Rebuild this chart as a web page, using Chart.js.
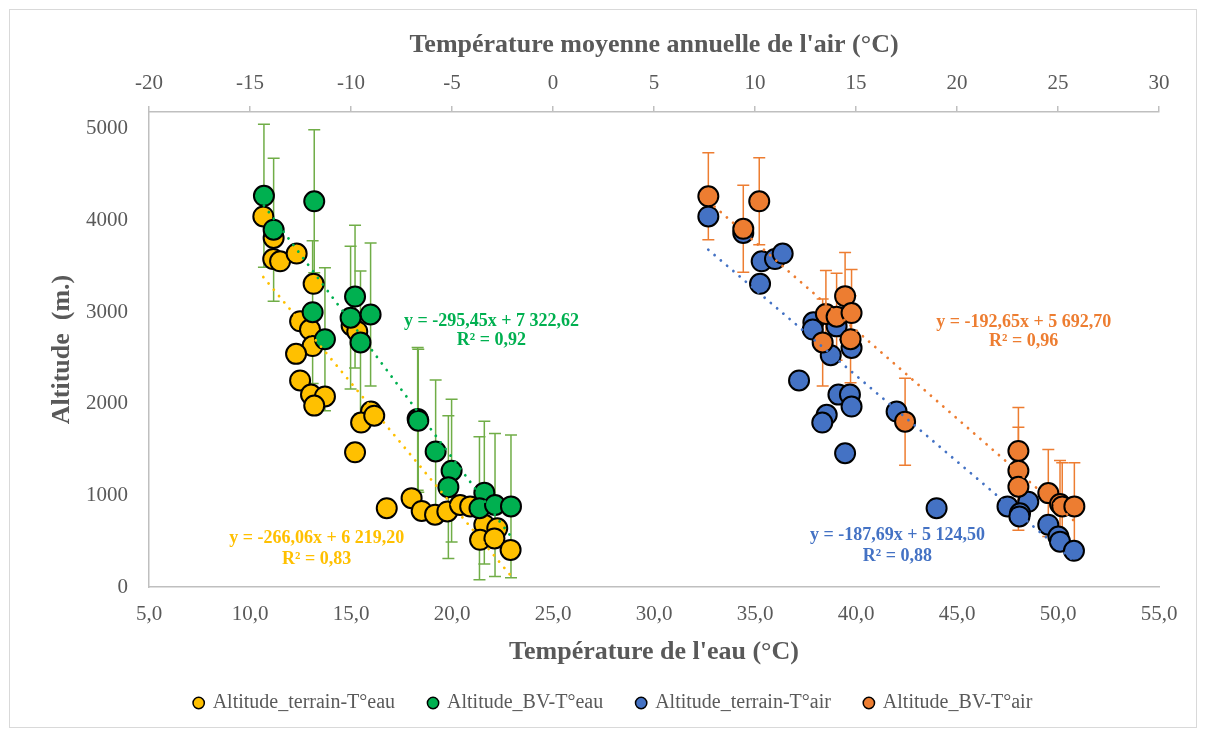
<!DOCTYPE html>
<html lang="fr">
<head>
<meta charset="utf-8">
<title>Altitude et température</title>
<script src="https://cdn.jsdelivr.net/npm/chart.js@4.4.1/dist/chart.umd.min.js"></script>
<style>
  html, body { margin: 0; padding: 0; background: #fff; }
  #wrap { width: 1206px; height: 733px; }
</style>
</head>
<body>
<div id="wrap"><canvas id="chart" width="1206" height="733"></canvas></div>
<script>
// --- Données ---
const seriesLabels = ['Altitude_terrain-T°eau', 'Altitude_BV-T°eau', 'Altitude_terrain-T°air', 'Altitude_BV-T°air'];
const yTicks = [0, 1000, 2000, 3000, 4000, 5000];

// Altitude terrain / température de l'eau (axe du bas)
const eauTerrainX = [10.66, 11.17, 11.15, 11.49, 12.31, 13.15, 12.48, 12.97, 13.10, 12.28, 12.48, 13.02, 13.71, 13.18,
  15.03, 15.31, 15.99, 15.50, 16.15, 15.20, 16.77, 18.00, 18.50, 19.16, 19.77, 20.40, 20.90, 21.60, 22.24, 21.39, 22.10, 22.90];
const eauTerrainY = [4045, 3810, 3580, 3555, 3640, 3310, 2900, 2810, 2630, 2545, 2255, 2100, 2080, 1980,
  2855, 2790, 1915, 1795, 1870, 1470, 860, 970, 830, 790, 825, 895, 880, 680, 640, 515, 530, 405];

// Altitude BV / température de l'eau (axe du bas)
const eauBVX = [10.69, 11.17, 13.18, 13.10, 13.71, 15.20, 14.98, 15.97, 15.47, 18.30, 18.33, 19.19, 19.98, 19.82, 21.60, 21.36, 22.13, 22.92];
const eauBVY = [4270, 3900, 4210, 3000, 2705, 3170, 2940, 2975, 2670, 1835, 1815, 1480, 1270, 1090, 1030, 860, 895, 880];
const eauBVErr = 780;

// Altitude terrain / température de l'air (axe du haut)
const airTerrainX = [7.69, 9.42, 10.33, 10.99, 11.37, 10.25, 12.89, 12.86, 14.04, 13.75, 14.78, 12.18, 14.13, 14.70,
  14.78, 13.55, 13.33, 14.46, 17.01, 18.99, 22.50, 23.53, 23.12, 23.09, 24.52, 25.02, 25.10, 25.79];
const airTerrainY = [4045, 3865, 3555, 3580, 3640, 3310, 2890, 2810, 2845, 2530, 2610, 2255, 2100, 2100,
  1970, 1880, 1795, 1460, 1915, 860, 880, 930, 805, 770, 680, 550, 495, 395];

// Altitude BV / température de l'air (axe du haut)
const airBVX = [7.69, 10.21, 9.42, 14.46, 13.51, 14.04, 14.78, 13.35, 14.73, 17.43, 23.04, 23.04, 23.04, 24.52, 25.10, 25.21, 25.81];
const airBVY = [4265, 4210, 3910, 3175, 2980, 2950, 2990, 2670, 2705, 1805, 1485, 1270, 1095, 1025, 905, 880, 880];
const airBVErr = 475;

// Courbes de tendance (équations affichées)
const trendSlopes = [-266.06, -295.45, -187.69, -192.65];
const trendIntercepts = [6219.20, 7322.62, 5124.50, 5692.70];
const trendR2 = [0.83, 0.92, 0.88, 0.96];

const colors = ['#FFC000', '#00B050', '#4472C4', '#ED7D31'];
const grey = '#595959';
const axisGrey = '#BFBFBF';

Chart.defaults.font.family = "'Liberation Serif', 'Times New Roman', serif";
Chart.defaults.color = grey;

function pts(xs, ys) {
  return xs.map((x, i) => ({ x: x, y: ys[i] }));
}

function trendPoints(xs, k) {
  const x0 = Math.min(...xs), x1 = Math.max(...xs);
  return [{ x: x0, y: trendSlopes[k] * x0 + trendIntercepts[k] },
          { x: x1, y: trendSlopes[k] * x1 + trendIntercepts[k] }];
}

function frNum(v) {
  const s = Math.abs(v).toFixed(2).split('.');
  const ent = s[0].replace(/\B(?=(\d{3})+(?!\d))/g, ' ');
  return (v < 0 ? '-' : '') + ent + ',' + s[1];
}

function scatterSet(k, xs, ys, axis, order, err, errColor) {
  return {
    label: seriesLabels[k],
    data: pts(xs, ys),
    xAxisID: axis,
    backgroundColor: colors[k],
    borderColor: '#000',
    borderWidth: 2,
    pointRadius: 10,
    pointBorderWidth: 2,
    pointHoverRadius: 10,
    order: order,
    errorBar: err ? { value: err, color: errColor } : null
  };
}

function trendSet(k, xs, axis) {
  return {
    label: '',
    isTrend: true,
    data: trendPoints(xs, k),
    xAxisID: axis,
    showLine: true,
    borderColor: colors[k],
    borderWidth: 2.8,
    borderDash: [0.01, 8.2],
    borderCapStyle: 'round',
    pointRadius: 0,
    fill: false,
    order: 1
  };
}

// --- Barres d'erreur verticales ---
const errorBarsPlugin = {
  id: 'errorBars',
  beforeDatasetsDraw(chart) {
    const ctx = chart.ctx;
    chart.data.datasets.forEach((ds, i) => {
      if (!ds.errorBar) return;
      const meta = chart.getDatasetMeta(i);
      const yScale = chart.scales[meta.yAxisID];
      ctx.save();
      ctx.strokeStyle = ds.errorBar.color;
      ctx.lineWidth = 1.5;
      meta.data.forEach((p, j) => {
        const v = ds.data[j].y;
        const top = yScale.getPixelForValue(v + ds.errorBar.value);
        const bot = yScale.getPixelForValue(v - ds.errorBar.value);
        ctx.beginPath();
        ctx.moveTo(p.x, top); ctx.lineTo(p.x, bot);
        ctx.moveTo(p.x - 6, top); ctx.lineTo(p.x + 6, top);
        ctx.moveTo(p.x - 6, bot); ctx.lineTo(p.x + 6, bot);
        ctx.stroke();
      });
      ctx.restore();
    });
  }
};

// --- Équations des tendances (position relative à la zone du graphique) ---
const eqPos = [
  { fx: 0.166, fy: 0.897, fy2: 0.942 },
  { fx: 0.339, fy: 0.440, fy2: 0.480 },
  { fx: 0.741, fy: 0.892, fy2: 0.936 },
  { fx: 0.866, fy: 0.442, fy2: 0.482 }
];
const equationsPlugin = {
  id: 'equations',
  afterDatasetsDraw(chart) {
    const { ctx, chartArea: a } = chart;
    ctx.save();
    ctx.font = "bold 18px 'Liberation Serif', 'Times New Roman', serif";
    ctx.textAlign = 'center';
    ctx.textBaseline = 'middle';
    eqPos.forEach((p, k) => {
      const x = a.left + p.fx * (a.right - a.left);
      const h = a.bottom - a.top;
      ctx.fillStyle = colors[k];
      ctx.fillText('y = ' + frNum(trendSlopes[k]) + 'x + ' + frNum(trendIntercepts[k]), x, a.top + p.fy * h);
      ctx.fillText('R² = ' + trendR2[k].toFixed(2).replace('.', ','), x, a.top + p.fy2 * h);
    });
    ctx.restore();
  }
};

// --- Cadre du graphique + légende un peu décalée vers la droite ---
const framePlugin = {
  id: 'frame',
  afterLayout(chart) {
    if (chart.legend) {
      chart.legend.left += 28;
      chart.legend.right += 28;
    }
  },
  beforeDraw(chart) {
    const ctx = chart.ctx;
    ctx.save();
    ctx.strokeStyle = '#D9D9D9';
    ctx.lineWidth = 1;
    ctx.strokeRect(9.5, 9.5, 1187, 718);
    ctx.restore();
  }
};

new Chart(document.getElementById('chart'), {
  type: 'scatter',
  data: {
    datasets: [
      scatterSet(0, eauTerrainX, eauTerrainY, 'x', 5),
      scatterSet(1, eauBVX, eauBVY, 'x', 4, eauBVErr, '#70AD47'),
      scatterSet(2, airTerrainX, airTerrainY, 'x2', 3),
      scatterSet(3, airBVX, airBVY, 'x2', 2, airBVErr, '#ED7D31'),
      trendSet(0, eauTerrainX, 'x'),
      trendSet(1, eauBVX, 'x'),
      trendSet(2, airTerrainX, 'x2'),
      trendSet(3, airBVX, 'x2')
    ]
  },
  options: {
    responsive: false,
    animation: false,
    events: [],
    layout: { padding: { left: 12, right: 47, top: 12, bottom: 10 } },
    plugins: {
      tooltip: { enabled: false },
      legend: {
        position: 'bottom',
        labels: {
          usePointStyle: true,
          boxWidth: 8,
          boxHeight: 8,
          padding: 34,
          color: grey,
          font: { size: 20 },
          sort: (a, b) => a.datasetIndex - b.datasetIndex,
          filter: (item, data) => !data.datasets[item.datasetIndex].isTrend,
          generateLabels: (chart) => Chart.defaults.plugins.legend.labels.generateLabels(chart)
            .map(l => Object.assign(l, { lineWidth: 1.5, strokeStyle: '#000' }))
        }
      }
    },
    scales: {
      x: {
        type: 'linear',
        position: 'bottom',
        min: 5, max: 55,
        afterFit: s => { s.height = 72; },
        grid: { display: false, drawTicks: false },
        border: { display: true, color: axisGrey, width: 1.5 },
        ticks: {
          stepSize: 5,
          padding: 15,
          color: grey,
          font: { size: 21 },
          callback: v => v.toFixed(1).replace('.', ',')
        },
        title: {
          display: true,
          text: "Température de l'eau (°C)",
          color: grey,
          font: { size: 26, weight: 'bold' },
          padding: { top: 0, bottom: -8.6 }
        }
      },
      x2: {
        type: 'linear',
        position: 'top',
        min: -20, max: 30,
        afterFit: s => { s.height = 100; },
        grid: { display: true, drawOnChartArea: false, drawTicks: true, tickLength: 6, color: axisGrey, lineWidth: 1.5 },
        border: { display: true, color: axisGrey, width: 1.5 },
        ticks: {
          stepSize: 5,
          padding: 10,
          color: grey,
          font: { size: 21 }
        },
        title: {
          display: true,
          text: "Température moyenne annuelle de l'air (°C)",
          color: grey,
          font: { size: 26, weight: 'bold' },
          padding: { top: 17.4, bottom: 0 }
        }
      },
      y: {
        type: 'linear',
        min: 0, max: 5185,
        afterFit: s => { s.width = 137; },
        afterBuildTicks: s => { s.ticks = yTicks.map(v => ({ value: v })); },
        grid: { display: false, drawTicks: false },
        border: { display: true, color: axisGrey, width: 1.5 },
        ticks: {
          padding: 21,
          color: grey,
          font: { size: 21 },
          callback: v => String(v)
        },
        title: {
          display: true,
          text: 'Altitude  (m.)',
          color: grey,
          font: { size: 26, weight: 'bold' },
          padding: { top: 34.4, bottom: 0 }
        }
      }
    }
  },
  plugins: [framePlugin, errorBarsPlugin, equationsPlugin]
});
</script>
</body>
</html>
